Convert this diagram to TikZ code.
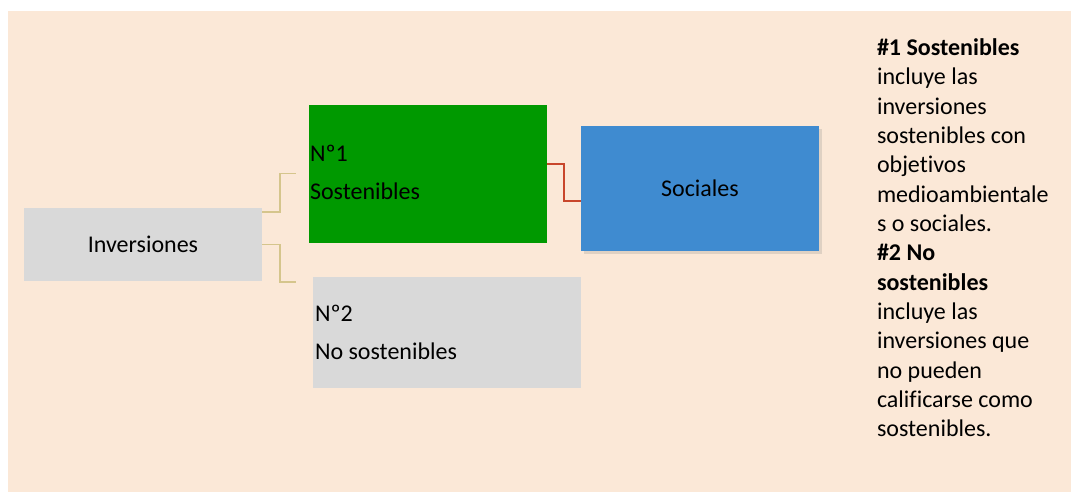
\documentclass[tikz,border=0pt]{standalone}
\usepackage{fontspec}
\setmainfont[Ligatures={NoCommon,NoRare,NoContextual}]{Carlito}
\usetikzlibrary{calc,shadows}
\definecolor{bgc}{HTML}{FBE8D7}
\definecolor{grayc}{HTML}{D9D9D9}
\definecolor{greenc}{HTML}{009900}
\definecolor{bluec}{HTML}{3F8BD0}
\definecolor{tanc}{HTML}{D5C58C}
\definecolor{redc}{HTML}{C8462B}
\begin{document}
\begin{tikzpicture}[x=0.75pt,y=-0.75pt,
  every node/.style={inner sep=0pt, outer sep=0pt, font=\fontsize{18pt}{22pt}\selectfont},
  boxc/.style={anchor=north west, minimum width=#1},
  tanline/.style={draw=tanc, line width=1.3pt},
  redline/.style={draw=redc, line width=1.3pt}]
\useasboundingbox (0,0) rectangle (1071,492);
\fill[bgc] (8,11) rectangle (1071,492);
% boxes
\node[boxc=178.5pt, minimum height=54.75pt, fill=grayc] (inv) at (24,208) {};
\node (invt) at (inv.center) {Inversiones};
\node[boxc=178.5pt, minimum height=103.5pt, fill=greenc] (g1) at (309,105) {};
\node[anchor=base west] (g1a) at (310,161.7) {Nº1};
\node[anchor=base west] (g1b) at (310,199) {Sostenibles};
\node[boxc=178.5pt, minimum height=93.75pt, fill=bluec,
  drop shadow={shadow xshift=2pt, shadow yshift=-2.5pt, opacity=0.22}] (soc) at (581,126) {};
\node (soct) at (soc.center) {Sociales};
\node[boxc=201pt, minimum height=83.25pt, fill=grayc] (g2) at (313,277) {};
\node[anchor=base west] (g2a) at (315,321.7) {Nº2};
\node[anchor=base west] (g2b) at (315,359) {No sostenibles};
% connectors
\coordinate (c1) at (296,173.5);
\coordinate (c2) at (296,282);
\draw[tanline] ($(inv.north east)+(0,4)$) -- ++(18,0) |- (c1);
\draw[tanline] (inv.east) -- ++(18,0) |- (c2);
\draw[redline] ($(g1.east)+(0,-10.3)$) -- ++(17,0) |- ($(soc.west)+(0,12.5)$);
% legend
\node[anchor=north west, align=left] (legend) at (877,38.5) {\textbf{\#1 Sostenibles}\\
incluye las\\
inversiones\\
sostenibles con\\
objetivos\\
medioambientale\\
s o sociales.\\
\textbf{\#2 No}\\
\textbf{sostenibles}\\
incluye las\\
inversiones que\\
no pueden\\
calificarse como\\
sostenibles.};
\end{tikzpicture}
\end{document}
